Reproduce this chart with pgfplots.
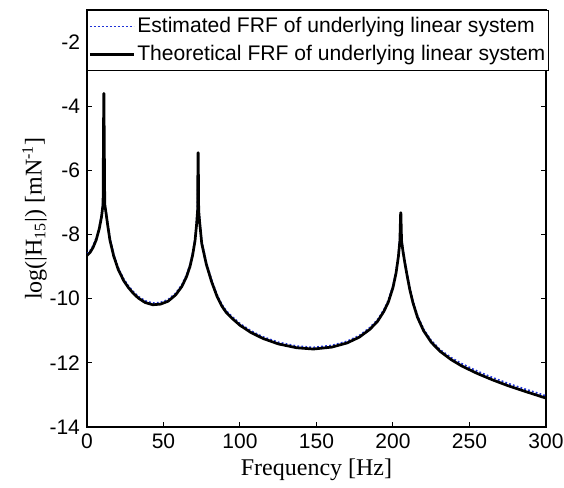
\documentclass[border=0pt]{standalone}
\usepackage{fontspec}
\setmainfont{Liberation Sans}
\newfontfamily\serif{Liberation Serif}
\usepackage{pgfplots}
\usepackage{pgfplotstable}
\pgfplotsset{compat=1.18}
\definecolor{estblue}{RGB}{30,50,215}

% theoretical FRF
\pgfplotstableread{
f y
0 -8.65
2 -8.56
4 -8.40
6 -8.17
8 -7.82
9.5 -7.45
10.5 -7.05
10.95 -3.60
11.05 -3.60
11.6 -7.05
12.5 -7.35
13.5 -7.70
15 -8.18
17.5 -8.68
20.5 -9.10
24 -9.44
27 -9.65
30 -9.82
33.5 -9.98
38 -10.12
43 -10.19
48 -10.17
53 -10.08
58 -9.88
62 -9.62
65 -9.32
67.3 -9.00
69 -8.65
70.6 -8.20
71.6 -7.70
72.3 -7.25
72.55 -5.45
72.7 -5.45
73.0 -7.25
73.6 -7.60
75 -8.28
78 -8.93
81.5 -9.48
85 -9.93
88 -10.22
91 -10.43
95 -10.62
100 -10.83
107 -11.05
115 -11.24
125 -11.41
137 -11.53
148 -11.57
160 -11.51
170 -11.38
178 -11.20
185 -10.95
190 -10.70
194 -10.40
197 -10.10
200 -9.65
202 -9.20
203.5 -8.70
204.5 -8.20
205.0 -7.32
205.15 -7.32
205.6 -8.20
206.6 -8.55
207.8 -8.90
209.3 -9.30
211 -9.72
213 -10.12
216 -10.58
220 -11.00
225 -11.36
231 -11.65
238 -11.90
245 -12.10
255 -12.33
265 -12.53
275 -12.71
285 -12.87
300 -13.10
}\theo

% estimated FRF
\pgfplotstableread{
f y
0 -8.60
2 -8.51
4 -8.35
6 -8.12
8 -7.77
9.5 -7.40
10.4 -7.00
10.85 -4.90
11.5 -7.00
12.5 -7.30
13.5 -7.65
15 -8.13
17.5 -8.63
20.5 -9.05
24 -9.39
27 -9.60
30 -9.77
33.5 -9.93
38 -10.07
43 -10.14
48 -10.12
53 -10.03
58 -9.83
62 -9.57
65 -9.27
67.3 -8.95
69 -8.60
70.6 -8.15
71.6 -7.65
72.2 -7.20
72.5 -6.55
73.0 -7.20
73.6 -7.55
75 -8.23
78 -8.88
81.5 -9.43
85 -9.88
88 -10.17
91 -10.38
95 -10.57
100 -10.78
107 -11.00
115 -11.19
125 -11.36
137 -11.48
148 -11.52
160 -11.46
170 -11.33
178 -11.15
185 -10.90
190 -10.65
194 -10.35
197 -10.05
200 -9.60
202 -9.15
203.5 -8.65
204.4 -8.15
204.95 -7.55
205.6 -8.15
206.6 -8.50
207.8 -8.85
209.3 -9.25
211 -9.67
213 -10.07
216 -10.53
220 -10.95
225 -11.31
231 -11.60
238 -11.84
245 -12.03
255 -12.26
265 -12.46
275 -12.64
285 -12.80
300 -13.03
}\esti

\begin{document}
\begin{tikzpicture}
\begin{axis}[
    width=229.5pt, height=208.5pt,
    scale only axis,
    xmin=0, xmax=300,
    ymin=-14, ymax=-1,
    xtick={0,50,...,300},
    ytick={-14,-12,...,-2},
    tick align=inside,
    major tick length=2.5pt,
    tick style={black, line width=0.5pt},
    axis line style={line width=0.6pt},
    /pgf/number format/assume math mode=true,
    tick label style={font=\fontsize{10.5}{12}\selectfont},
    xticklabel style={inner xsep=0pt},
    xlabel={\serif Frequency [Hz]},
    ylabel={\serif log(|H\textsubscript{15}|) [mN\textsuperscript{-1}]},
    label style={font=\fontsize{12}{14}\selectfont},
    xlabel style={yshift=2pt},
    ylabel style={yshift=-5.5pt},
    legend style={at={(0,1)}, anchor=north west, draw=black, line width=0.6pt,
        font=\fontsize{10.55}{12}\selectfont, inner xsep=0.5pt, inner ysep=1.5pt,
        row sep=1pt, legend cell align=left,
        nodes={inner xsep=1pt, inner ysep=1.25pt, text height=8pt, text depth=2.5pt}},
    legend image code/.code={\draw[#1] (0pt,0pt) -- (22pt,0pt);},
    every axis plot/.append style={line join=round},
]
\addplot[estblue, line width=0.9pt, dash pattern=on 0.9pt off 1.1pt] table[x=f,y=y] {\esti};
\addplot[black, line width=1.35pt] table[x=f,y=y] {\theo};
\legend{Estimated FRF of underlying linear system, Theoretical FRF of underlying linear system}
\path (rel axis cs:0,0) coordinate (sw) (rel axis cs:1,1) coordinate (ne);
\end{axis}
\path (sw) ++(-43.5pt,-30pt) (ne) ++(9pt,5pt);
\end{tikzpicture}
\end{document}
